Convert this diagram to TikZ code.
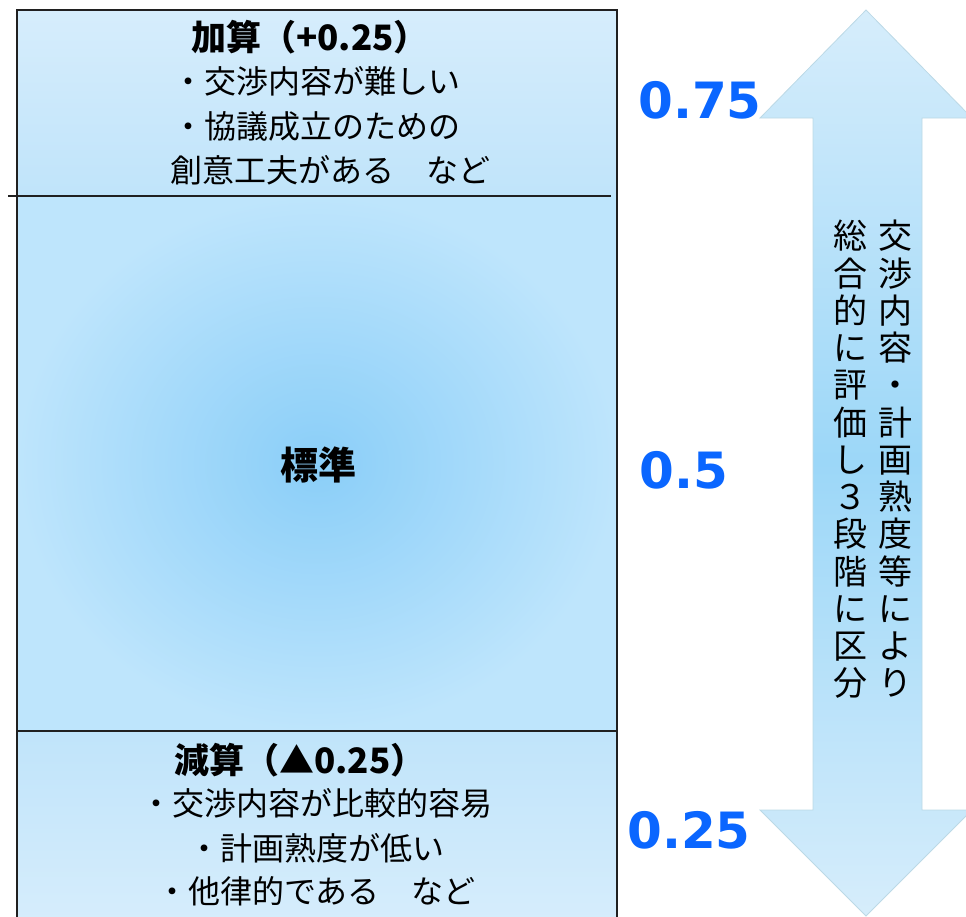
\documentclass[tikz,border=0pt]{standalone}
\usepackage{fontspec}
\newfontfamily\jp{Noto Sans CJK JP}
\newfontfamily\numfont{DejaVu Sans}
\definecolor{midc}{HTML}{8ACEF8}
\definecolor{mide}{HTML}{BEE5FC}
\definecolor{bandtop}{HTML}{D6EDFC}
\definecolor{bandbot}{HTML}{C0E4FA}
\definecolor{arrmid}{HTML}{9CD7F8}
\definecolor{arrend}{HTML}{D6EDFB}
\definecolor{arredge}{HTML}{BCD9E6}
\definecolor{numblue}{HTML}{0A66FF}
\definecolor{frame}{HTML}{202020}
\tikzset{
  frameline/.style={draw=frame,line width=1.5pt},
  jptext/.style={font=\jp\fontsize{32}{44}\selectfont,inner sep=0pt,anchor=center},
  jptitle/.style={font=\jp\bfseries\fontsize{35}{44}\selectfont,inner sep=0pt,anchor=center},
  numlabel/.style={font=\numfont\bfseries\fontsize{50}{56}\selectfont,text=numblue,inner sep=0pt,anchor=center},
  vcol/.style={font=\jp\fontsize{34}{37.25}\selectfont,align=center,inner sep=0pt,anchor=north}
}
\begin{document}
\begin{tikzpicture}[x=1pt,y=-1pt]
\useasboundingbox (0,0) rectangle (966,916);
\clip (0,0) rectangle (966,916);
% bands
\shade[top color=bandtop,bottom color=bandbot] (17,10) rectangle (617,196);
\shade[inner color=midc,outer color=mide] (17,196) rectangle (617,731);
\shade[top color=bandbot,bottom color=bandtop] (17,731) rectangle (617,925);
% frame lines
\draw[frameline] (17,925) -- (17,10) -- (617,10) -- (617,925);
\draw[frameline] (8,196) -- (611,196);
\draw[frameline] (17,731) -- (617,731);
% top band text
\node[jptitle] (t0) at (310,37) {加算（+0.25）};
\node[jptext] (t1) at (316,81) {・交渉内容が難しい};
\node[jptext] (t2) at (316,126) {・協議成立のための};
\node[jptext] (t3) at (330,170) {創意工夫がある　など};
% middle
\node[font=\jp\bfseries\fontsize{38}{44}\selectfont,inner sep=0pt] (std) at (318,465) {標準};
% bottom band text
\node[jptitle] (b0) at (300,760) {減算（▲0.25）};
\node[jptext] (b1) at (316,803) {・交渉内容が比較的容易};
\node[jptext] (b2) at (316,848) {・計画熟度が低い};
\node[jptext] (b3) at (316,891) {・他律的である　など};
% numbers
\node[numlabel] (n75) at (700,100) {0.75};
\node[numlabel] (n50) at (684,470) {0.5};
\node[numlabel] (n25) at (689,830) {0.25};
% double arrow
\shade[top color=arrend,bottom color=arrend,middle color=arrmid,draw=arredge,line width=0.8pt]
  (813,118) -- (760,118) -- (866,10) -- (972,118) -- (922,118) -- (922,810)
  -- (972,810) -- (866,916) -- (760,810) -- (813,810) -- cycle;
% vertical text
\node[vcol] (vr) at (895,220) {交\\渉\\内\\容\\・\\計\\画\\熟\\度\\等\\に\\よ\\り};
\node[vcol] (vl) at (850,220) {総\\合\\的\\に\\評\\価\\し\\３\\段\\階\\に\\区\\分};
\end{tikzpicture}
\end{document}
